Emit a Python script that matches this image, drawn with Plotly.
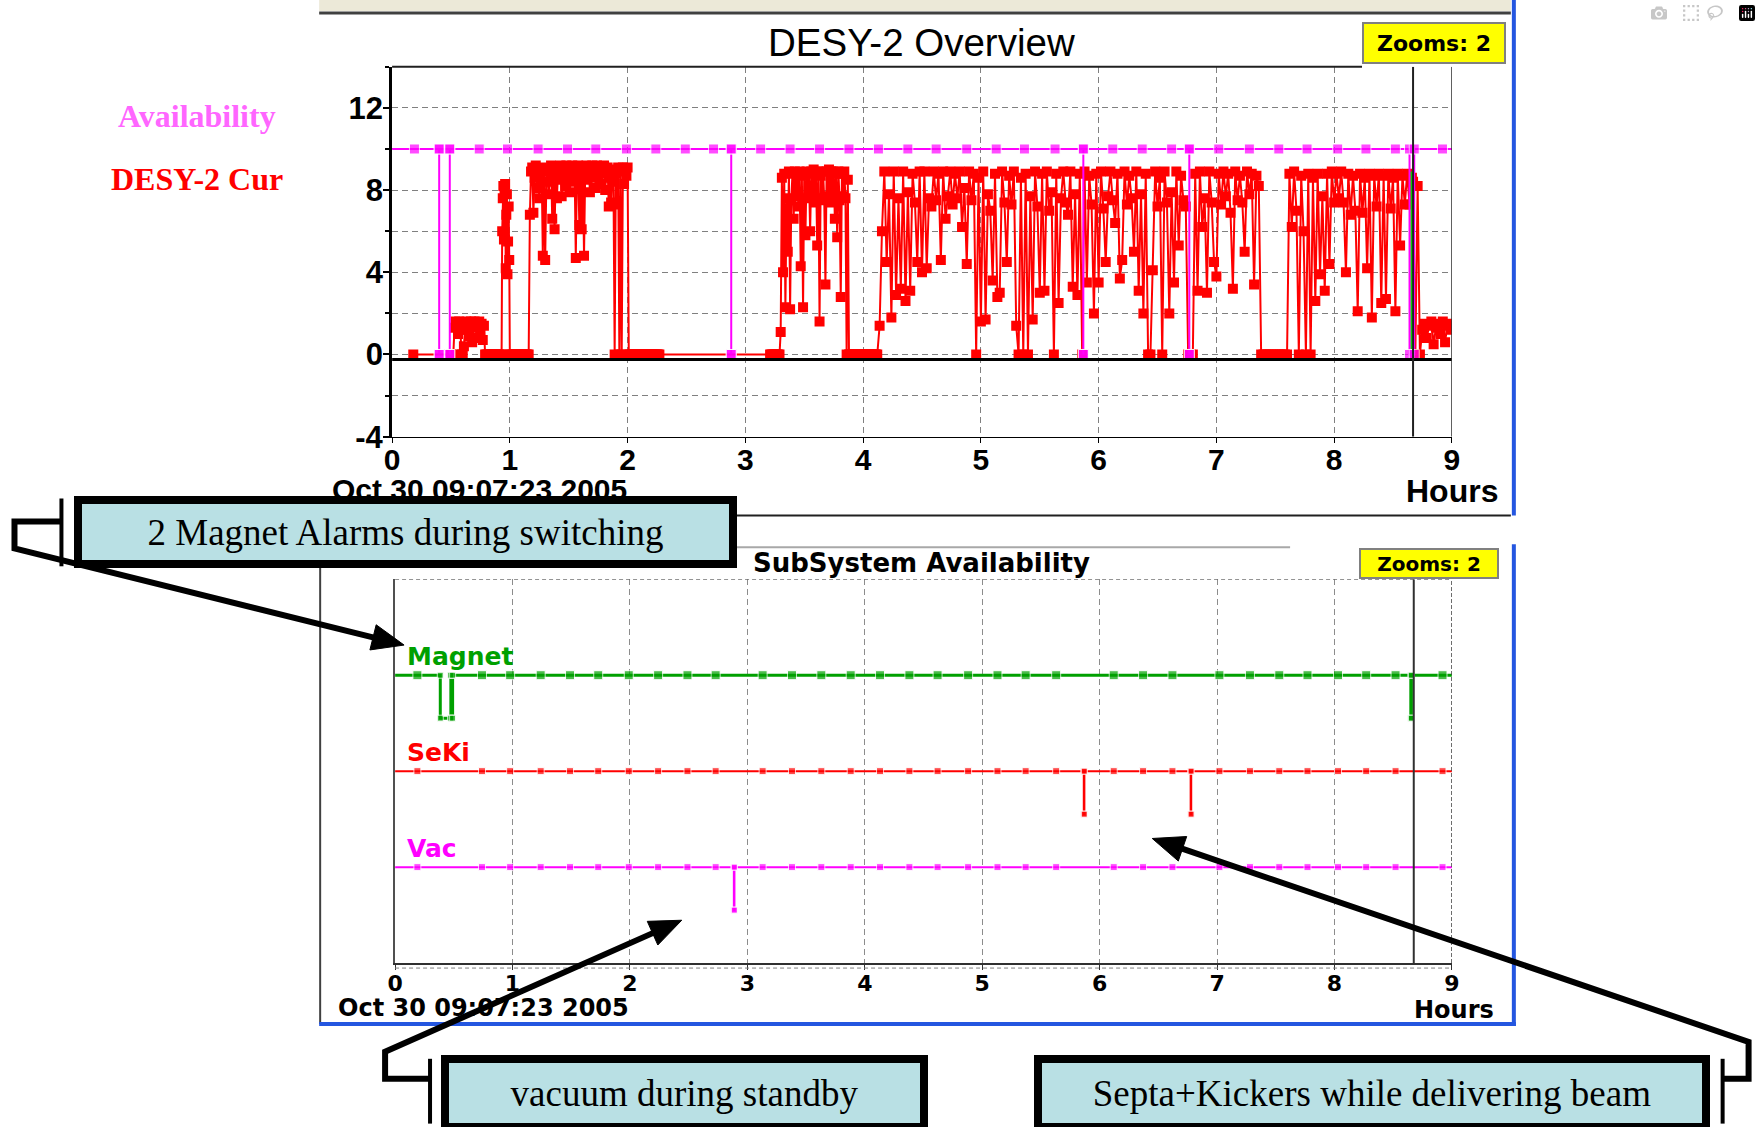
import numpy as np
import plotly.graph_objects as go

W, H = 1761, 1127


# pixel -> paper conversion, with a small empirical correction of the capture
def X(px):
    return ((px - 6.5) / 0.992) / W


def Y(py):
    return 1 - (py / 0.987) / H


# ---------------------------------------------------------------- data
hour_ticks = [0, 1, 2, 3, 4, 5, 6, 7, 8, 9]
hour_tick_labels = ["0", "1", "2", "3", "4", "5", "6", "7", "8", "9"]
current_ticks = [-4, 0, 4, 8, 12]
current_tick_labels = ["-4", "0", "4", "8", "12"]
current_minor_ticks = [-2, 2, 6, 10, 14]
start_label = "Oct 30 09:07:23 2005"

# sampling instants of the availability monitors (hours after start)
sample_hours = [0.19, 0.74, 0.98, 1.24, 1.49, 1.73, 1.99, 2.24, 2.49, 2.73,
                3.13, 3.38, 3.63, 3.88, 4.13, 4.38, 4.62, 4.88, 5.13, 5.37,
                5.63, 6.12, 6.37, 6.62, 7.02, 7.28, 7.53, 7.77, 8.03, 8.27,
                8.52, 8.92]

# overall availability (top chart): 10 = available, 0 = not available
availability_ok = 10
availability_bad = 0
availability_drops = [(0.40, 0.40), (0.49, 0.49), (2.88, 2.88),
                      (5.87, 5.87), (6.77, 6.77), (8.64, 8.68)]

# green magnet flag in the top chart
magnet_flag_hours = [8.655, 8.655]
magnet_flag_values = [0.0, 8.9]

# DESY-2 beam current (mA), segment by segment
cur_span_01 = (0.18, 0.50)
cur_vals_01 = [0, 0]
cur_span_02 = (0.52, 0.79)
cur_vals_02 = [0, 1.3, 1.6, 1.4, 1.0, 1.6, 1.2, 0, 0, 0.4, 1.2, 1.6, 1.5, 0.9,
               1.5, 1.6, 0.6, 1.3, 1.6, 1.4, 0.8, 1.5, 1.6, 1.1, 1.5, 0.7, 1.4, 0]
cur_span_03 = (0.80, 0.92)
cur_vals_03 = [0, 0, 0, 0, 0, 0, 0, 0, 0, 0, 0, 0]
cur_span_04 = (0.93, 1.00)
cur_vals_04 = [0, 6.0, 7.6, 8.2, 5.6, 7.9, 8.3, 4.2, 6.8, 7.8, 3.9, 5.5, 7.2, 4.6, 0]
cur_span_05 = (1.01, 1.16)
cur_vals_05 = [0, 0, 0, 0, 0, 0, 0, 0, 0, 0, 0, 0, 0, 0, 0, 0]
cur_span_06 = (1.17, 2.01)
cur_vals_06 = [6.8, 8.9, 9.1, 6.9, 8.6, 9.2, 8.1, 9.0, 7.6, 8.8,
               9.1, 4.8, 8.9, 4.6, 8.4, 9.0, 7.8, 8.9, 9.2, 6.6,
               8.7, 6.1, 8.9, 7.6, 9.1, 8.5, 9.2, 7.7, 8.8, 9.0,
               8.2, 9.2, 8.6, 9.1, 7.9, 8.9, 9.2, 8.4, 9.0, 4.7,
               8.8, 9.2, 6.3, 8.7, 6.1, 9.0, 4.8, 8.9, 9.2, 8.5,
               9.1, 7.9, 8.9, 9.2, 8.6, 9.0, 8.1, 9.2, 8.7, 9.1,
               8.3, 9.0, 8.8, 9.2, 8.0, 8.9, 9.1, 7.2, 8.6, 7.4,
               9.0, 8.4, 0, 8.8, 7.3, 9.1, 0, 8.9, 0, 9.1,
               8.3, 9.0, 8.7, 9.1, 0]
cur_span_07 = (2.02, 2.27)
cur_vals_07 = [0, 0, 0, 0, 0, 0, 0, 0, 0, 0, 0, 0, 0, 0, 0, 0, 0, 0, 0, 0,
               0, 0, 0, 0, 0, 0]
cur_span_08 = (3.21, 3.29)
cur_vals_08 = [0, 0, 0, 0, 0, 0, 0, 0, 0]
cur_span_09 = (3.30, 3.88)
cur_vals_09 = [1.1, 8.6, 4.0, 8.8, 2.3, 7.6, 5.0, 8.9, 2.2, 7.5,
               8.8, 6.6, 8.9, 7.7, 8.8, 7.2, 8.9, 4.3, 8.7, 2.3,
               8.8, 5.8, 8.9, 7.6, 8.8, 6.0, 8.9, 7.8, 9.0, 7.4,
               8.8, 5.3, 8.9, 1.6, 8.7, 7.6, 8.9, 7.5, 3.4, 8.9,
               7.7, 9.0, 7.4, 8.9, 7.6, 8.9, 6.6, 8.8, 5.7, 8.9,
               7.5, 2.8, 8.8, 7.7, 8.9, 7.6, 0, 8.5, 0]
cur_span_10 = (3.89, 4.11)
cur_vals_10 = [0, 0, 0, 0, 0, 0, 0, 0, 0, 0, 0, 0, 0, 0, 0, 0, 0, 0, 0, 0,
               0, 0, 0]
cur_span_11 = (4.12, 7.38)
cur_vals_11 = [0, 1.4, 6.0, 8.9, 4.5, 7.8, 1.8, 8.9, 2.9, 7.6,
               3.2, 8.9, 2.6, 7.9, 3.1, 8.8, 7.4, 4.5, 8.9, 4.0,
               8.9, 4.2, 7.6, 7.2, 8.9, 7.5, 8.8, 4.6, 8.9, 6.6,
               7.7, 8.9, 7.3, 8.8, 7.6, 8.9, 6.2, 8.1, 4.4, 8.9,
               7.5, 8.8, 0, 8.6, 1.6, 8.9, 1.7, 7.8, 7.0, 3.6,
               8.8, 2.8, 3.0, 8.9, 7.4, 4.5, 8.7, 7.3, 8.9, 1.4,
               0, 8.6, 0, 8.8, 0, 7.7, 1.7, 8.9, 7.2, 3.0,
               8.8, 3.1, 8.9, 7.0, 7.9, 0, 8.8, 2.5, 7.6, 8.9,
               7.4, 6.8, 8.9, 3.3, 7.8, 2.9, 8.8, 0, 8.9, 3.5,
               8.7, 7.3, 2.0, 8.8, 3.5, 8.9, 7.1, 4.5, 7.7, 8.9,
               7.5, 6.4, 8.8, 3.7, 4.6, 8.9, 7.3, 8.7, 7.6, 5.0,
               8.9, 3.1, 7.8, 2.0, 8.8, 0, 0, 4.1, 8.9, 7.2,
               8.6, 0, 8.9, 7.4, 2.0, 7.9, 3.5, 8.9, 5.3, 8.7,
               7.5, 7.2, 0, 0, 0, 8.8, 3.1, 8.9, 6.2, 7.6,
               3.0, 8.9, 7.4, 4.5, 3.8, 8.8, 7.3, 8.9, 7.7, 8.8,
               6.9, 3.2, 8.9, 7.5, 8.7, 7.4, 5.0, 8.9, 7.8, 8.8,
               3.4, 8.7, 8.2, 0]
cur_span_12 = (7.40, 7.60)
cur_vals_12 = [0, 0, 0, 0, 0, 0, 0, 0, 0, 0, 0]
cur_span_13 = (7.62, 7.78)
cur_vals_13 = [8.8, 6.2, 8.9, 7.0, 0, 8.7, 6.0, 0, 8.8]
cur_span_14 = (7.80, 8.66)
cur_vals_14 = [0, 8.6, 2.6, 8.8, 3.9, 7.7, 3.1, 8.8, 4.4, 8.9,
               7.4, 8.8, 7.6, 8.9, 7.4, 4.0, 8.8, 6.8, 8.7, 7.0,
               2.1, 8.8, 6.9, 8.6, 4.2, 8.8, 1.8, 8.7, 7.2, 8.8,
               2.5, 8.7, 2.7, 8.8, 7.1, 8.6, 2.1, 8.8, 5.3, 8.7,
               7.3, 8.8, 7.3, 8.6]
cur_span_15 = (8.67, 9.00)
cur_vals_15 = [8.4, 0, 8.2, 0, 1.2, 1.5, 0.8, 1.4, 1.6, 0.5, 1.3, 1.5, 1.0,
               1.6, 0.6, 1.4, 1.5, 1.2]

current_segments = [
    (cur_span_01, cur_vals_01), (cur_span_02, cur_vals_02),
    (cur_span_03, cur_vals_03), (cur_span_04, cur_vals_04),
    (cur_span_05, cur_vals_05), (cur_span_06, cur_vals_06),
    (cur_span_07, cur_vals_07), (cur_span_08, cur_vals_08),
    (cur_span_09, cur_vals_09), (cur_span_10, cur_vals_10),
    (cur_span_11, cur_vals_11), (cur_span_12, cur_vals_12),
    (cur_span_13, cur_vals_13), (cur_span_14, cur_vals_14),
    (cur_span_15, cur_vals_15),
]

# subsystem alarms (start, end) in hours -- lower chart
subsystem_names = ["Magnet", "SeKi", "Vac"]
magnet_alarms = [(0.385, 0.475), (0.475, 0.49), (8.65, 8.655)]
seki_alarms = [(5.865, 5.87), (6.775, 6.78)]
vac_alarms = [(2.885, 2.89)]

# callout texts
callout_texts = ["2 Magnet Alarms during switching",
                 "vacuum during standby",
                 "Septa+Kickers while delivering beam"]

# ---------------------------------------------------------------- build series
cur_t, cur_v = [], []
for (t0, t1), vals in current_segments:
    cur_t.extend(np.linspace(t0, t1, len(vals)).tolist())
    cur_v.extend(vals)


def status_points(alarms, up, down):
    pts = [(0.0, up, 0)] + [(t, up, 1) for t in sample_hours] + [(9.0, up, 0)]
    for a, b in alarms:
        pts += [(a, up, 2), (a, down, 2), (b, down, 2), (b, up, 2)]
    pts.sort(key=lambda p: p[0])
    return [p[0] for p in pts], [p[1] for p in pts], [p[2] for p in pts]


av_t, av_v, av_m = status_points(availability_drops, availability_ok, availability_bad)

lane_level = {"Magnet": 7.5, "SeKi": 5.0, "Vac": 2.5}
lane_drop = 1.12
lane_color = {"Magnet": "#00A000", "SeKi": "#FF0000", "Vac": "#FF00FF"}
lane_alarms = {"Magnet": magnet_alarms, "SeKi": seki_alarms, "Vac": vac_alarms}

fig = go.Figure()

# top chart
fig.add_trace(go.Scatter(
    x=cur_t, y=cur_v, mode="lines+markers", xaxis="x", yaxis="y",
    line=dict(color="#FF0000", width=2),
    marker=dict(symbol="square", size=10, color="#FF0000"),
    hoverinfo="skip", showlegend=False))
fig.add_trace(go.Scatter(
    x=magnet_flag_hours, y=magnet_flag_values, mode="lines", xaxis="x", yaxis="y",
    line=dict(color="#00D000", width=2), hoverinfo="skip", showlegend=False))
fig.add_trace(go.Scatter(
    x=av_t, y=av_v, mode="lines+markers", xaxis="x", yaxis="y",
    line=dict(color="#FF00FF", width=2),
    marker=dict(symbol="square", size=[10 if m else 0 for m in av_m], color="#FF00FF"),
    hoverinfo="skip", showlegend=False))

# lower chart
for name in subsystem_names:
    base = lane_level[name]
    t, v, m = status_points(lane_alarms[name], base, base - lane_drop)
    big = name == "Magnet"
    sizes = [0 if k == 0 else ((9 if big else 7) if k == 1 else 6) for k in m]
    fig.add_trace(go.Scatter(
        x=t, y=v, mode="lines+markers", xaxis="x2", yaxis="y2",
        line=dict(color=lane_color[name], width=3 if big else 2),
        marker=dict(symbol="square", size=sizes, color=lane_color[name]),
        hoverinfo="skip", showlegend=False))

# ---------------------------------------------------------------- layout
GRID = "#808080"
DASH = "6px,4px"
bold_sans = dict(family="Liberation Sans, Arial, sans-serif", color="black", weight="bold")
bold_dv = dict(family="DejaVu Sans, Verdana, sans-serif", color="black", weight="bold")

layout = dict(
    width=W, height=H, margin=dict(l=0, r=0, t=0, b=0),
    paper_bgcolor="white", plot_bgcolor="rgba(0,0,0,0)",
    showlegend=False, hovermode=False,
    xaxis=dict(domain=[X(391), X(1452)], range=[0, 9], anchor="y",
               tickmode="array", tickvals=hour_ticks, ticktext=hour_tick_labels,
               ticks="outside", ticklen=5, tickwidth=1, tickcolor="black",
               tickfont=dict(size=30, **bold_sans), ticklabelstandoff=-9,
               showgrid=True, gridcolor=GRID, griddash=DASH, gridwidth=1,
               showline=True, linecolor="black", linewidth=1, zeroline=False,
               fixedrange=True),
    yaxis=dict(domain=[Y(438), Y(67)], range=[-4, 14], anchor="x",
               tickmode="array", tickvals=current_ticks, ticktext=current_tick_labels,
               ticks="outside", ticklen=6, tickwidth=2, tickcolor="black",
               tickfont=dict(size=31, **bold_sans), ticklabelstandoff=-6,
               showgrid=True, gridcolor=GRID, griddash=DASH, gridwidth=1,
               minor=dict(tickmode="array", tickvals=current_minor_ticks,
                          showgrid=True, gridcolor=GRID, griddash=DASH,
                          ticks="outside", ticklen=4, tickcolor="black"),
               showline=True, linecolor="black", linewidth=3, zeroline=False,
               fixedrange=True),
    xaxis2=dict(domain=[X(394), X(1452)], range=[0, 9], anchor="y2",
                tickmode="array", tickvals=hour_ticks, ticktext=hour_tick_labels,
                ticks="outside", ticklen=5, tickwidth=1, tickcolor="#303030",
                tickfont=dict(size=22, **bold_dv), ticklabelstandoff=-5,
                showgrid=True, gridcolor="#8C8C8C", griddash=DASH, gridwidth=1,
                showline=True, linecolor="#303030", linewidth=2, zeroline=False,
                fixedrange=True),
    yaxis2=dict(domain=[Y(966), Y(581)], range=[0, 10], anchor="x2",
                showticklabels=False, ticks="", showgrid=False,
                showline=True, linecolor="#505050", linewidth=1.5, zeroline=False,
                fixedrange=True),
)

shapes = []


def pline(x0, y0, x1, y1, color, width, dash=None, layer="above"):
    return dict(type="line", xref="paper", yref="paper", x0=X(x0), y0=Y(y0),
                x1=X(x1), y1=Y(y1), line=dict(color=color, width=width, dash=dash),
                layer=layer)


def ppath(points, color, width=0, fill=None, closed=False):
    d = "M " + " L ".join(f"{X(px):.5f},{Y(py):.5f}" for px, py in points)
    if closed:
        d += " Z"
    s = dict(type="path", xref="paper", yref="paper", path=d, layer="above",
             line=dict(color=color, width=width))
    if fill:
        s["fillcolor"] = fill
    return s


def arrow(points, color="black", width=6, head_len=32, head_half=13):
    (tx, ty), (hx, hy) = points[-2], points[-1]
    dx, dy = hx - tx, hy - ty
    L = (dx * dx + dy * dy) ** 0.5
    ux, uy = dx / L, dy / L
    bx, by = hx - head_len * ux, hy - head_len * uy
    px_, py_ = -uy, ux
    body = points[:-1] + [(bx + 2 * ux, by + 2 * uy)]
    head = [(hx, hy), (bx + head_half * px_, by + head_half * py_),
            (bx - head_half * px_, by - head_half * py_)]
    return [ppath(body, color, width), ppath(head, color, 1, fill=color, closed=True)]


# window chrome of the top panel
shapes.append(dict(type="rect", xref="paper", yref="paper", x0=X(318), x1=X(1511),
                   y0=Y(11), y1=Y(0), fillcolor="#ECE9D8", line=dict(width=0), layer="below"))
shapes.append(pline(318, 13, 1511, 13, "#404040", 3))
shapes.append(pline(391, 67, 1362, 67, "#202020", 2))
shapes.append(pline(736, 517, 1511, 517, "#202020", 2))
shapes.append(pline(1514, 0, 1514, 517, "#2456E0", 4))
# window chrome of the lower panel
shapes.append(pline(736, 549, 1290, 549, "#A8A8A8", 2))
shapes.append(pline(319, 567, 319, 1027, "#404040", 2))
shapes.append(pline(1514, 546, 1514, 1029, "#2456E0", 4))
shapes.append(pline(318, 1027, 1516, 1027, "#2456E0", 4))
shapes.append(pline(394, 971, 1452, 971, "#808080", 1, dash="4px,3px"))

# plot furniture in data coordinates
shapes.append(dict(type="line", xref="x", yref="y", x0=0, x1=9, y0=-0.25, y1=-0.25,
                   line=dict(color="black", width=3), layer="above"))
shapes.append(dict(type="line", xref="x", yref="y", x0=9, x1=9, y0=-4, y1=14,
                   line=dict(color="#303030", width=1.5), layer="above"))
shapes.append(dict(type="line", xref="x", yref="y", x0=8.67, x1=8.67, y0=-4, y1=14,
                   line=dict(color="#202020", width=2), layer="above"))
shapes.append(dict(type="line", xref="x2", yref="y2", x0=0, x1=9, y0=10, y1=10,
                   line=dict(color="#707070", width=1.5, dash="4px,3px"), layer="above"))
shapes.append(dict(type="line", xref="x2", yref="y2", x0=9, x1=9, y0=0, y1=10,
                   line=dict(color="#404040", width=1.5, dash="4px,2px"), layer="above"))
shapes.append(dict(type="line", xref="x2", yref="y2", x0=8.675, x1=8.675, y0=0, y1=10,
                   line=dict(color="#303030", width=2), layer="above"))

# callout brackets and arrows
shapes.append(pline(60, 500, 60, 568, "black", 4))
shapes += arrow([(60, 523), (13, 523), (13, 550), (403, 647)])
shapes.append(pline(429, 1062, 429, 1127, "black", 4))
shapes += arrow([(429, 1082), (384, 1082), (384, 1055), (681, 923)])
shapes.append(pline(1723, 1062, 1723, 1127, "black", 4))
shapes += arrow([(1723, 1082), (1749, 1082), (1749, 1045), (1152, 841)])

layout["shapes"] = shapes

ann = []


def pann(text, x, y, font, xanchor="center", yanchor="middle", **kw):
    d = dict(text=text, x=X(x), y=Y(y), xref="paper", yref="paper",
             xanchor=xanchor, yanchor=yanchor, showarrow=False, font=font)
    d.update(kw)
    return d


ann.append(pann("DESY-2 Overview", 921, 43,
                dict(family="Liberation Sans, Arial, sans-serif", size=38.5, color="black")))
ann.append(pann("Zooms: 2", 1434, 43, dict(size=22, **bold_dv), bgcolor="#FFFF00",
                bordercolor="#808080", borderwidth=2, borderpad=0, width=140, height=38))
ann.append(pann("Availability", 196, 116,
                dict(family="Liberation Serif, Times New Roman, serif", size=32,
                     color="#FF66FF", weight="bold")))
ann.append(pann("DESY-2 Cur", 196, 180,
                dict(family="Liberation Serif, Times New Roman, serif", size=32,
                     color="#FF0000", weight="bold")))
ann.append(pann(start_label, 329, 491, dict(size=30, **bold_sans), xanchor="left"))
ann.append(pann("Hours", 1500, 492, dict(size=32, **bold_sans), xanchor="right"))

ann.append(pann("SubSystem Availability", 921, 565, dict(size=26, **bold_dv)))
ann.append(pann("Zooms: 2", 1429, 565, dict(size=20, **bold_dv), bgcolor="#FFFF00",
                bordercolor="#808080", borderwidth=2, borderpad=0, width=136, height=27))
ann.append(pann(start_label, 335, 1011, dict(size=24, **bold_dv), xanchor="left"))
ann.append(pann("Hours", 1496, 1013, dict(size=24, **bold_dv), xanchor="right"))

for name in subsystem_names:
    ann.append(dict(text=name, x=0.085, y=lane_level[name] + 0.48, xref="x2", yref="y2",
                    xanchor="left", yanchor="middle", showarrow=False,
                    font=dict(family="DejaVu Sans, Verdana, sans-serif", size=25,
                              color=lane_color[name], weight="bold")))

serif_box = dict(family="Liberation Serif, Times New Roman, serif", size=37, color="black")
box_style = dict(bgcolor="#B9E0E4", bordercolor="black", borderwidth=8, borderpad=0)
ann.append(pann(callout_texts[0], (73 + 736) / 2, (498 + 570) / 2, serif_box,
                width=736 - 73 - 16, height=570 - 498 - 16, **box_style))
ann.append(pann(callout_texts[1], (440 + 927) / 2, (1058 + 1134) / 2, serif_box,
                width=927 - 440 - 16, height=1134 - 1058 - 16, **box_style))
ann.append(pann(callout_texts[2], (1034 + 1710) / 2, (1058 + 1134) / 2, serif_box,
                width=1710 - 1034 - 16, height=1134 - 1058 - 16, **box_style))

layout["annotations"] = ann
fig.update_layout(**layout)

fig.write_html("out.html",
               post_script="document.body.style.margin='0';document.body.style.overflow='hidden';")
